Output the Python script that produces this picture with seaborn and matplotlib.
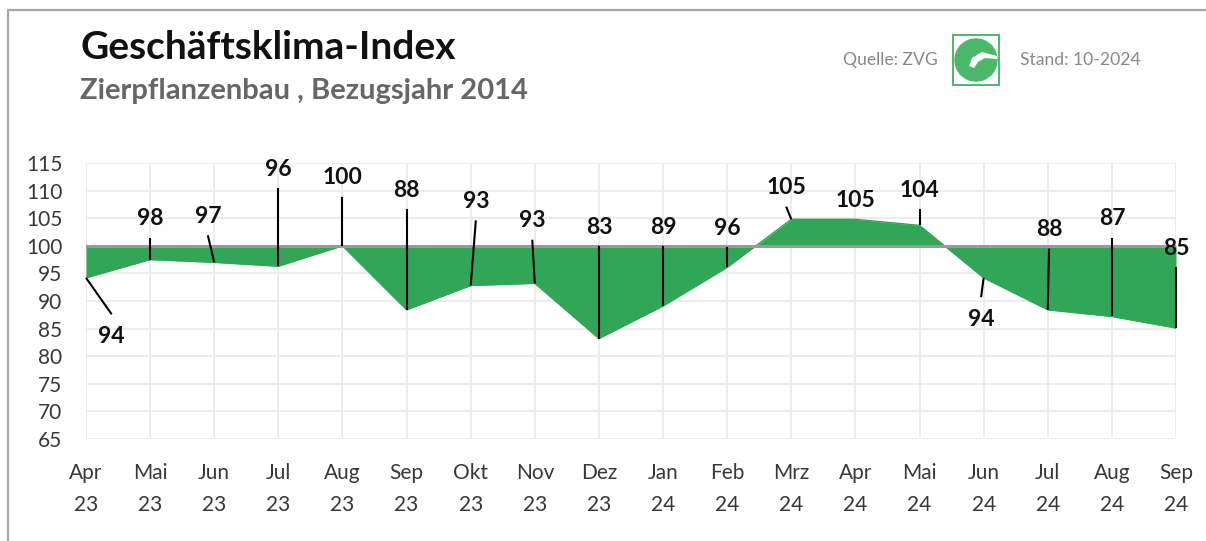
import matplotlib
matplotlib.use("Agg")
import matplotlib.pyplot as plt
import matplotlib.patches as mpatches
from matplotlib.lines import Line2D
import numpy as np
import pandas as pd
import seaborn as sns

# data
months = ["Apr", "Mai", "Jun", "Jul", "Aug", "Sep", "Okt", "Nov", "Dez",
          "Jan", "Feb", "Mrz", "Apr", "Mai", "Jun", "Jul", "Aug", "Sep"]
years = ["23"] * 9 + ["24"] * 9
index_values = [94.2, 97.5, 97.0, 96.3, 100.0, 88.4, 92.8, 93.2, 83.2,
                89.1, 96.1, 104.8, 104.8, 103.7, 94.2, 88.4, 87.2, 85.1]
value_labels = ["94", "98", "97", "96", "100", "88", "93", "93", "83",
                "89", "96", "105", "105", "104", "94", "88", "87", "85"]
y_ticks = [65, 70, 75, 80, 85, 90, 95, 100, 105, 110, 115]

# where the value labels sit (layout, not data)
label_y = [83.5, 104.9, 105.3, 113.8, 112.3, 110.1, 108.0, 104.5, 103.3,
           103.3, 103.1, 110.5, 108.2, 110.1, 86.6, 102.9, 104.9, 99.5]
label_dx = [0.4, 0, -0.1, 0, 0, 0, 0.08, -0.04, 0,
            0, 0, -0.08, 0, 0, -0.04, 0.02, 0, 0]

GREEN = "#32a657"
W, H = 1206, 541

sns.set_theme(style="whitegrid")
plt.rcParams["font.family"] = ["Lato", "DejaVu Sans"]

fig = plt.figure(figsize=(W / 100, H / 100), dpi=100)
fig.patch.set_facecolor("white")

# outer frame (top and left edge of the original panel)
fig.add_artist(Line2D([8 / W, 1], [1 - 10 / H, 1 - 10 / H], transform=fig.transFigure,
                      color="#a8a8a8", lw=1.6))
fig.add_artist(Line2D([8 / W, 8 / W], [0, 1 - 10 / H], transform=fig.transFigure,
                      color="#a8a8a8", lw=1.6))

ax = fig.add_axes([86 / W, 1 - 439 / H, 1090 / W, 276 / H])
df = pd.DataFrame({"pos": np.arange(len(months)), "value": index_values})

ax.fill_between(df["pos"], 100, df["value"], color=GREEN, linewidth=0, zorder=2)
sns.lineplot(data=df, x="pos", y="value", color=GREEN, lw=1, ax=ax, zorder=2)
ax.axhline(100, color="#9a9a9a", lw=2.2, zorder=3)

gap_above, gap_below = 3.4, 4.1
for i, (v, lab, ly, dx) in enumerate(zip(index_values, value_labels, label_y, label_dx)):
    end = ly - gap_above if ly > v else ly + gap_below
    if abs(end - v) > 0.4 and (end - v) * (ly - v) > 0:
        ax.plot([i, i + dx], [v, end], color="black", lw=1.5, zorder=4,
                solid_capstyle="butt", clip_on=False)
    ax.text(i + dx, ly, lab, ha="center", va="center", fontsize=16.5,
            fontweight="bold", color="#111111", zorder=5, clip_on=False)

ax.set_xlim(0, len(months) - 1)
ax.set_ylim(65, 115)
ax.set_yticks(y_ticks)
ax.set_xticks(df["pos"])
ax.set_xticklabels([f"{m}\n{y}" for m, y in zip(months, years)], linespacing=1.8)
ax.tick_params(axis="both", length=0, labelsize=15, labelcolor="#383838")
ax.tick_params(axis="y", pad=17)
ax.tick_params(axis="x", pad=17)
ax.set_xlabel("")
ax.set_ylabel("")
ax.grid(True, color="#ebebeb", lw=1.3)
for side in ["top", "bottom", "left", "right"]:
    ax.spines[side].set_visible(False)

# header texts
fig.text(80 / W, 1 - 59 / H, "Geschäftsklima-Index", fontsize=28, fontweight="bold",
         color="#111111", va="baseline", ha="left")
fig.text(80 / W, 1 - 99 / H, "Zierpflanzenbau , Bezugsjahr 2014", fontsize=21,
         fontweight="bold", color="#666666", va="baseline", ha="left")
fig.text(843 / W, 1 - 65 / H, "Quelle: ZVG", fontsize=12.6, color="#888888",
         va="baseline", ha="left")
fig.text(1020 / W, 1 - 65 / H, "Stand: 10-2024", fontsize=12.6, color="#888888",
         va="baseline", ha="left")

# small logo
lax = fig.add_axes([952 / W, 1 - 86 / H, 48 / W, 52 / H])
lax.set_xlim(0, 48)
lax.set_ylim(0, 52)
lax.axis("off")
lax.add_patch(mpatches.Rectangle((1, 1), 46, 50, fill=False, edgecolor="#4cb86a", lw=1.4))
lax.add_patch(mpatches.Circle((24, 26), 21, color="#4cb86a"))
lax.add_patch(mpatches.Polygon([(45, 30), (30, 34), (20, 28), (17, 20), (22, 18),
                                (26, 24), (33, 28), (45, 27)], closed=True,
                               color="white", lw=0))

fig.savefig("out.png", dpi=100, facecolor="white")
